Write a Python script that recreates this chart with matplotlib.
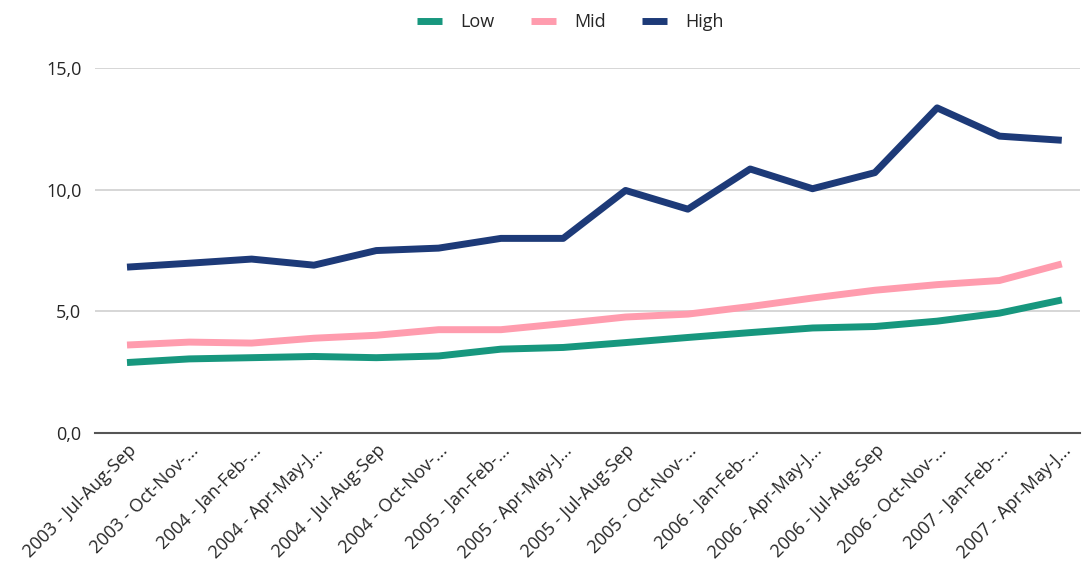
import matplotlib.pyplot as plt
from matplotlib.ticker import FuncFormatter

plt.rcParams['font.family'] = ['Open Sans', 'DejaVu Sans']

# 数据
quarters = [
    "2003 - Jul-Aug-Sep", "2003 - Oct-Nov-...", "2004 - Jan-Feb-...", "2004 - Apr-May-J...",
    "2004 - Jul-Aug-Sep", "2004 - Oct-Nov-...", "2005 - Jan-Feb-...", "2005 - Apr-May-J...",
    "2005 - Jul-Aug-Sep", "2005 - Oct-Nov-...", "2006 - Jan-Feb-...", "2006 - Apr-May-J...",
    "2006 - Jul-Aug-Sep", "2006 - Oct-Nov-...", "2007 - Jan-Feb-...", "2007 - Apr-May-J...",
]
low = [2.9, 3.05, 3.1, 3.15, 3.1, 3.17, 3.45, 3.52, 3.72, 3.93, 4.13, 4.32, 4.38, 4.6, 4.93, 5.47]
mid = [3.62, 3.74, 3.7, 3.9, 4.02, 4.25, 4.25, 4.5, 4.77, 4.89, 5.2, 5.55, 5.87, 6.1, 6.27, 6.95]
high = [6.82, 6.98, 7.15, 6.9, 7.5, 7.6, 8.0, 8.0, 9.97, 9.2, 10.85, 10.04, 10.7, 13.36, 12.2, 12.03]

fig = plt.figure(figsize=(10.82, 5.76), dpi=100)
ax = fig.add_axes([0.088, 0.248, 0.91, 0.634])

x = list(range(len(quarters)))
ax.plot(x, low, color='#17977e', lw=5, label='Low', solid_capstyle='butt')
ax.plot(x, mid, color='#ff9cae', lw=5, label='Mid', solid_capstyle='butt')
ax.plot(x, high, color='#1d3a78', lw=5, label='High', solid_capstyle='butt')

ax.set_xlim(-0.51, 15.29)
ax.set_ylim(0, 15)
ax.set_yticks([0, 5, 10, 15])
ax.yaxis.set_major_formatter(FuncFormatter(lambda v, p: f"{v:.1f}".replace('.', ',')))
ax.grid(axis='y', color='#d0d0d0', lw=1.2)
ax.set_axisbelow(True)
for s in ['top', 'right', 'left']:
    ax.spines[s].set_visible(False)
ax.spines['bottom'].set_color('#555555')
ax.spines['bottom'].set_linewidth(1.5)
ax.tick_params(axis='both', length=0, labelsize=13, colors='#262626')
ax.tick_params(axis='y', pad=10)
ax.tick_params(axis='x', pad=6)

ax.set_xticks(x)
ax.set_xticklabels(quarters, rotation=45, ha='right', va='top', rotation_mode='anchor')

fig.legend(loc='upper center', bbox_to_anchor=(0.527, 1.005), ncol=3, frameon=False,
           fontsize=13, handlelength=1.4, columnspacing=2.0, handletextpad=1.0,
           labelcolor='#262626')

plt.savefig('out.png', dpi=100)
